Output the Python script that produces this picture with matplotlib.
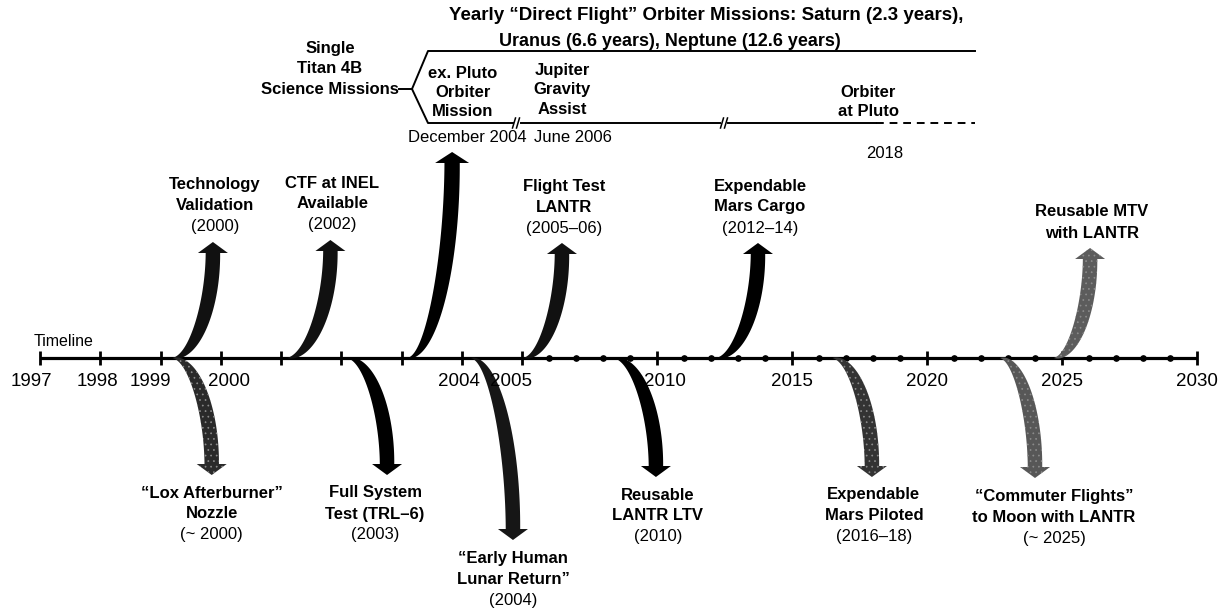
import numpy as np
import matplotlib
matplotlib.use('Agg')
import matplotlib.pyplot as plt
from matplotlib.patches import Polygon

plt.rcParams['font.family'] = ['Liberation Sans', 'DejaVu Sans']
plt.rcParams['hatch.color'] = '#8c8c8c'
plt.rcParams['hatch.linewidth'] = 0.5

# timeline is drawn wider for 1997-2005 than for 2005-2030
scale_years = [1990, 1997, 2005, 2030, 2040]
scale_px = [40 - 7 * 60.25, 40, 522, 1197, 1467]

major_years = [1997, 1998, 1999, 2000, 2001, 2002, 2003, 2004, 2005, 2010, 2015, 2020, 2025, 2030]
minor_years = [y for y in range(2006, 2030) if y % 5 != 0]
year_labels = [1997, 1998, 1999, 2000, 2004, 2005, 2010, 2015, 2020, 2025, 2030]
year_nudge = [-9, -3, -10, 8, -3, -11, 8, 0, 0, 0, 0]

# arrows pointing up (above the timeline)
up_titles = ['Technology\nValidation', 'CTF at INEL\nAvailable', '', 'Flight Test\nLANTR',
             'Expendable\nMars Cargo', 'Reusable MTV\nwith LANTR']
up_dates = ['(2000)', '(2002)', '', '(2005–06)', '(2012–14)', '']
up_start = [1999.2, 2001.1, 2003.1, 2005.05, 2012.2, 2024.7]
up_tip = [1999.87, 2001.82, 2003.84, 2006.48, 2013.74, 2026.04]
up_end = [242, 240, 152, 243, 243, 248]
up_color = ['#111111', '#111111', '#000000', '#111111', '#000000', '#5c5c5c']
up_speckled = [False, False, False, False, False, True]

# arrows pointing down (below the timeline)
down_titles = ['“Lox Afterburner”\nNozzle', 'Full System\nTest (TRL–6)', '“Early Human\nLunar Return”',
               'Reusable\nLANTR LTV', 'Expendable\nMars Piloted', '“Commuter Flights”\nto Moon with LANTR']
down_dates = ['(~ 2000)', '(2003)', '(2004)', '(2010)', '(2016–18)', '(~ 2025)']
down_start = [1999.2, 2002.1, 2004.15, 2008.4, 2016.5, 2022.7]
down_tip = [1999.85, 2002.76, 2004.85, 2009.96, 2017.96, 2024.0]
down_end = [475, 475, 540, 477, 477, 478]
down_color = ['#2a2a2a', '#000000', '#161616', '#000000', '#333333', '#575757']
down_speckled = [True, False, False, False, True, True]
down_label_dx = [0, -12, 0, 2, 2, 19]

AXIS_Y = 358


def to_px(yr):
    return np.interp(yr, scale_years, scale_px)


def to_year(px):
    return np.interp(px, scale_px, scale_years)


fig = plt.figure(figsize=(12.27, 6.11), dpi=100)
ax = fig.add_axes([0, 0, 1, 1])
ax.set_xscale('function', functions=(to_px, to_year))
ax.set_xlim(to_year(0), to_year(1227))
ax.set_ylim(611, 0)
ax.axis('off')


def curved_arrow(start, tip, end_y, sign, color, speckled, shaft=17, head_w=30, head_len=11):
    # centre line is a cubic curve leaving the axis flat and arriving vertical
    x0, y0 = float(to_px(start)), AXIS_Y
    x1 = float(to_px(tip))
    yb = end_y - sign * head_len
    t = np.linspace(0, 1, 80)[:, None]
    p0 = np.array([x0, y0])
    p1 = np.array([x0 + 0.55 * (x1 - x0), y0])
    p2 = np.array([x1, y0 + 0.5 * (yb - y0)])
    p3 = np.array([x1, yb])
    c = (1 - t) ** 3 * p0 + 3 * (1 - t) ** 2 * t * p1 + 3 * (1 - t) * t ** 2 * p2 + t ** 3 * p3
    d = 3 * (1 - t) ** 2 * (p1 - p0) + 6 * (1 - t) * t * (p2 - p1) + 3 * t ** 2 * (p3 - p2)
    d[0] = p1 - p0
    n = np.column_stack([-d[:, 1], d[:, 0]]) / np.hypot(d[:, 0], d[:, 1])[:, None]
    w = shaft / 2 * (1 - (1 - t) ** 2.4) * (1 - 0.15 * t)
    side_a = c + n * w
    side_b = c - n * w
    head = np.array([c[-1] + n[-1] * head_w / 2, [x1, end_y], c[-1] - n[-1] * head_w / 2])
    pts = np.vstack([side_a, head, side_b[::-1]])
    ax.add_patch(Polygon(np.column_stack([to_year(pts[:, 0]), pts[:, 1]]), closed=True,
                         facecolor=color, hatch='...' if speckled else None, lw=0, zorder=3))


def put(x, y, s, dx=0, dy=0, size=12, weight='bold', ha='center'):
    ax.annotate(s, xy=(x, y), xytext=(dx, dy), textcoords='offset pixels',
                ha=ha, va='center', fontsize=size, fontweight=weight, zorder=4)


# timeline
ax.plot([1997, 2030], [AXIS_Y, AXIS_Y], color='black', lw=2.3, zorder=2, solid_capstyle='butt')
ax.plot(major_years, [AXIS_Y] * len(major_years), ls='none', marker='|', ms=10.5, mew=2, color='black', zorder=2)
ax.plot(minor_years, [AXIS_Y] * len(minor_years), ls='none', marker='o', ms=3.8, color='black', zorder=2)
for yr, nd in zip(year_labels, year_nudge):
    put(yr, AXIS_Y + 24, str(yr), dx=nd, size=13.5, weight='normal')
put(to_year(34), 341, 'Timeline', size=11.5, weight='normal', ha='left')

# up arrows with their labels
for title, date, st, tp, ey, col, sp in zip(up_titles, up_dates, up_start, up_tip, up_end,
                                            up_color, up_speckled):
    big = ey < 200
    curved_arrow(st, tp, ey, -1, col, sp, shaft=18 if big else 17, head_w=34 if big else 30)
    if not title:
        continue
    lines = title.split('\n')
    weights = ['bold'] * len(lines)
    if date:
        lines.append(date)
        weights.append('normal')
    base = ey - 15
    for k, (s, wt) in enumerate(zip(lines[::-1], weights[::-1])):
        put(tp, base, s, dx=2, dy=21 * k, weight=wt)

# down arrows with their labels
for title, date, st, tp, ey, col, sp, ldx in zip(down_titles, down_dates, down_start, down_tip,
                                                  down_end, down_color, down_speckled, down_label_dx):
    curved_arrow(st, tp, ey, 1, col, sp)
    lines = title.split('\n') + [date]
    weights = ['bold'] * (len(lines) - 1) + ['normal']
    for k, (s, wt) in enumerate(zip(lines, weights)):
        put(tp, ey + 18, s, dx=ldx, dy=-21 * k, weight=wt)

# Titan 4B mission block at the top
for k, s in enumerate(['Single', 'Titan 4B', 'Science Missions']):
    put(to_year(330), 48 + 20.5 * k, s)
put(to_year(449), 16, 'Yearly “Direct Flight” Orbiter Missions: Saturn (2.3 years),', size=13.5, ha='left')
put(to_year(670), 41, 'Uranus (6.6 years), Neptune (12.6 years)', size=13)

lw = 1.4
ax.plot(to_year([399, 412]), [89, 89], color='black', lw=lw)
ax.plot(to_year([975, 428, 412, 428, 513]), [51, 51, 89, 123, 123], color='black', lw=lw)
ax.plot(to_year([521, 720]), [123, 123], color='black', lw=lw)
ax.plot(to_year([728, 876]), [123, 123], color='black', lw=lw)
ax.plot(to_year([876, 975]), [123, 123], color='black', lw=lw, ls=(0, (4, 3)))
for bx in [514, 518, 722, 726]:
    ax.plot(to_year([bx - 1.5, bx + 1.5]), [128, 118], color='black', lw=1.1)

for k, s in enumerate(['ex. Pluto', 'Orbiter', 'Mission']):
    put(to_year(463), 73 + 19.5 * k, s)
for k, s in enumerate(['Jupiter', 'Gravity', 'Assist']):
    put(to_year(562), 70 + 19.5 * k, s)
for k, s in enumerate(['Orbiter', 'at Pluto']):
    put(to_year(868), 92.5 + 19.5 * k, s)
put(to_year(467), 137, 'December 2004', weight='normal')
put(to_year(573), 137, 'June 2006', weight='normal')
put(to_year(885), 154, '2018', weight='normal')

fig.savefig('out.png', dpi=100)
